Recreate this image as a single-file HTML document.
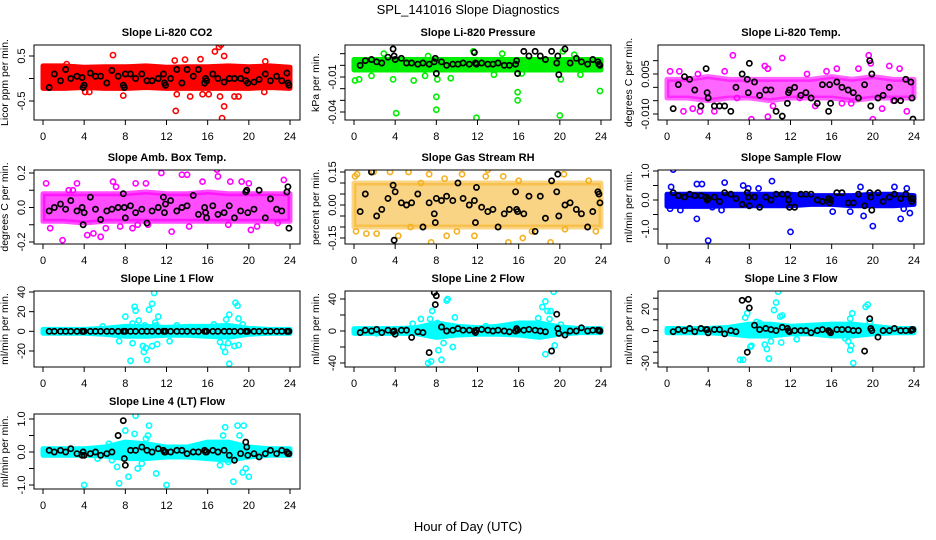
<!DOCTYPE html>
<html><head><meta charset="utf-8"><style>
html,body{margin:0;padding:0;background:#fff;}
svg{display:block;font-family:"Liberation Sans",sans-serif;}
</style></head><body>
<svg id="chart" width="936" height="540" viewBox="0 0 936 540">
<text x="468" y="14" text-anchor="middle" font-size="13">SPL_141016  Slope Diagnostics</text>
<text x="468" y="531" text-anchor="middle" font-size="13">Hour of Day (UTC)</text>
</svg>
<script>
const blackHours=[0.6,1.1,1.7,2.2,2.7,3.3,3.8,3.9,4.0,4.6,5.1,5.6,6.2,6.7,7.3,7.8,7.9,8.0,8.5,9.0,9.6,10.1,10.6,11.2,11.7,11.8,11.9,12.4,13.0,13.5,14.0,14.6,15.1,15.7,15.8,15.9,16.5,17.0,17.6,18.1,18.6,19.2,19.7,19.8,19.9,20.5,21.0,21.6,22.1,22.7,23.2,23.7,23.8,23.9];
const bandHours=[0,2,4,6,8,10,12,14,16,18,20,22,24];
const xTicks=[0,4,8,12,16,20,24];

const co2Black=[-0.2,0.1,-0.05,0.2,0,0.05,0.02,-0.2,-0.15,0.12,0.05,0.05,-0.1,0.18,0.05,-0.15,-0.2,0.1,0.1,0,0.1,-0.05,-0.05,0,0.1,-0.1,-0.15,0,0.2,-0.1,0.2,0.05,0.2,-0.1,0,-0.05,0.1,0,-0.08,0,0,0,-0.05,0.18,-0.1,-0.08,-0.02,0.1,-0.05,0.05,-0.05,0.12,-0.1,-0.15];
const co2BandLo=[-0.22,-0.22,-0.2,-0.22,-0.22,-0.2,-0.22,-0.22,-0.22,-0.22,-0.22,-0.2,-0.22];
const co2BandHi=[0.28,0.28,0.25,0.26,0.26,0.28,0.25,0.26,0.26,0.28,0.26,0.28,0.25];
const co2OutX=[6.8,7.8,12.9,13.0,14.3,15.3,17.4,17.6,16.7,17.1,17.3,17.6,4.1,19.0,18.6,12.8,13.8,15.5,16.1,17.2,21.5,0.2,23.9,2.3,21.6,4.5];
const co2OutY=[0.52,-0.38,-0.72,-0.35,-0.4,0.43,-0.88,-0.62,0.6,0.7,0.75,0.5,-0.3,-0.4,-0.4,0.4,0.42,-0.35,-0.35,-0.4,-0.3,-0.15,-0.15,0.32,0.38,-0.3];

const presBlack=[0,0.004,0.005,0.003,0.002,0.007,0.014,0.008,0.005,0.006,0.002,0.002,0.001,0.002,0.001,0.003,0.006,-0.007,0.003,0,0.001,0.001,0.002,0.001,0.011,0.002,0.001,0.002,0.001,0.001,0.002,0,0,0.001,0.004,-0.007,0.012,0.008,0.012,0.008,0.005,0.012,0.002,0.008,-0.008,0.014,0.002,0.006,0.003,0.001,0.005,0.003,0.001,0];
const presBandLo=[-0.004,-0.004,-0.004,-0.004,-0.004,-0.004,-0.004,-0.004,-0.004,-0.004,-0.004,-0.004,-0.004];
const presBandHi=[0.005,0.005,0.005,0.005,0.005,0.005,0.005,0.005,0.005,0.005,0.005,0.005,0.005];
const presOutX=[0.1,0.5,4.1,8.0,8.0,11.9,15.9,15.9,20.0,20.1,23.9,3.8,1.7,5.8,6.9,9.4,2.9,7.2,11.6,14.4,20.3,21.4,13.6,8.1,16.3,22.0];
const presOutY=[-0.013,-0.012,-0.041,-0.038,-0.027,-0.045,-0.030,-0.023,-0.043,-0.012,-0.022,-0.012,-0.009,-0.013,-0.009,-0.011,0.01,0.008,0.012,0.01,0.012,0.009,-0.008,-0.012,-0.007,-0.008];

const tempBlack=[-0.008,0.001,0.004,0.003,-0.001,-0.007,0.007,-0.002,-0.004,-0.007,-0.007,-0.007,-0.009,0,0.005,0.003,-0.002,0.009,0.002,-0.003,-0.001,-0.001,-0.009,-0.0108,-0.006,-0.002,-0.001,0,-0.003,-0.002,-0.004,-0.006,0.001,-0.009,0.001,-0.006,0.002,0,-0.001,-0.002,-0.004,0.001,0.010,-0.007,0.005,-0.004,-0.003,0,-0.005,-0.005,0.003,0.002,-0.004,-0.0119];
const tempBandLo=[-0.004,-0.004,-0.005,-0.004,-0.004,-0.005,-0.004,-0.004,-0.004,-0.005,-0.004,-0.004,-0.004];
const tempBandHi=[0.003,0.003,0.004,0.003,0.003,0.003,0.003,0.003,0.004,0.003,0.004,0.003,0.003];
const tempOutX=[6.4,11.2,19.6,19.8,0.3,9.5,9.8,20.0,8.2,9.8,3.2,1.6,4.6,17.0,22.6,21.6,18.6,2.5,6.8,12.9,15.5,13.6,23.3,20.9,5.6,14.4,10.3,16.5,17.9,1.2,3.0,22.0];
const tempOutY=[0.012,0.011,0.012,0.009,0.006,0.008,0.007,-0.012,-0.012,-0.011,-0.009,-0.009,-0.009,-0.006,0.007,0.008,0.007,-0.008,-0.004,-0.004,0.006,0.005,-0.009,-0.008,0.006,-0.007,-0.007,0.007,-0.006,0.006,0.005,-0.005];

const ambBlack=[-0.02,0,0.02,-0.01,0.04,-0.02,0,-0.1,-0.03,0.06,-0.01,-0.07,-0.02,-0.01,0,0.08,0,-0.06,0.01,-0.03,-0.01,-0.09,-0.02,0,0.06,-0.03,0.02,0.04,-0.02,0,0.01,0.07,-0.04,0,-0.03,-0.06,0.01,-0.04,-0.03,0.01,-0.06,-0.02,0.09,0.1,-0.03,-0.01,0.1,-0.06,0.05,-0.01,-0.02,0.09,0.12,-0.12];
const ambBandLo=[-0.08,-0.08,-0.09,-0.08,-0.08,-0.08,-0.08,-0.08,-0.08,-0.08,-0.08,-0.08,-0.08];
const ambBandHi=[0.08,0.08,0.08,0.08,0.08,0.09,0.08,0.08,0.09,0.08,0.08,0.08,0.08];
const ambOutX=[0.3,1.9,0.7,2.9,3.3,4.3,4.9,5.6,6.8,7.1,9.0,10.0,11.5,12.5,13.5,14.0,15.5,16.9,17.0,18.2,19.3,20.0,20.2,20.8,22.8,23.4,9.2,10.2,6.1,7.5,14.2,18.0,2.5,8.7];
const ambOutY=[0.14,-0.19,-0.12,0.1,0.14,-0.16,-0.15,-0.17,0.15,0.12,0.14,0.14,0.2,-0.14,0.19,0.19,0.15,0.22,0.18,0.15,0.15,0.14,-0.13,-0.11,-0.09,0.16,-0.1,-0.1,-0.12,-0.11,-0.11,-0.1,0.1,-0.12];

const rhBlack=[-0.03,0.05,0.15,-0.05,-0.02,0.03,0.09,-0.16,0.06,0.01,0,0.01,0.05,-0.1,0.01,-0.04,-0.08,0.03,0.02,0.04,0.02,0.1,0.03,0,0.02,-0.08,0.08,-0.01,-0.03,-0.02,-0.1,-0.04,-0.02,0.06,-0.02,-0.03,-0.04,0.04,-0.12,0.04,-0.06,0.11,0.06,0.14,-0.05,0,0.01,-0.02,-0.04,-0.1,-0.03,0.06,0.05,0.01];
const rhBandLo=[-0.1,-0.1,-0.1,-0.1,-0.1,-0.1,-0.1,-0.1,-0.1,-0.1,-0.1,-0.1,-0.1];
const rhBandHi=[0.1,0.1,0.1,0.1,0.1,0.1,0.1,0.1,0.1,0.1,0.1,0.1,0.1];
const rhOutX=[0.1,0.3,1.9,3.5,5.3,6.5,7.3,8.8,10.5,12.8,13.0,14.5,16.0,20.4,22.8,0.2,1.2,2.2,4.3,7.5,9.0,11.7,15.0,16.4,17.3,19.1,20.5,23.5,5.5,10.0];
const rhOutY=[0.13,0.14,0.15,0.15,0.15,0.1,0.14,0.12,0.14,0.13,0.16,0.13,0.11,0.14,0.11,-0.12,-0.13,-0.13,-0.14,-0.17,-0.14,-0.14,-0.17,-0.15,-0.12,-0.17,-0.11,-0.12,-0.1,-0.12];

const sfBlack=[0.25,0.15,0.1,0.2,0.15,0.15,0.1,0,0.05,0.1,-0.05,0.25,0.2,0.05,-0.15,0.25,0.1,-0.2,0.1,-0.25,0.1,0,0.2,0.2,0.2,0,-0.25,-0.25,0.2,0.2,0.2,0,-0.05,0.05,-0.1,0,0.25,0.25,-0.1,-0.1,0.2,-0.2,0.25,0.1,-0.35,0.25,-0.05,0.1,0.2,0.05,0.2,0.05,-0.05,0.05];
const sfBandLo=[-0.22,-0.22,-0.22,-0.2,-0.2,-0.2,-0.2,-0.15,-0.15,-0.2,-0.2,-0.2,-0.15];
const sfBandHi=[0.2,0.2,0.2,0.2,0.2,0.2,0.2,0.15,0.15,0.15,0.2,0.2,0.15];
const sfOutX=[0.6,0.4,0.3,1.3,2.9,2.9,3.4,4.0,5.6,7.4,7.9,10.2,12.0,16.1,18.8,19.1,20.0,22.1,22.7,23.0,23.3,23.6,8.9,17.8,5.3,4.4];
const sfOutY=[1.05,0.45,-0.3,-0.35,0.55,-0.65,0.55,-1.4,0.6,0.5,0.4,0.65,-1.1,-0.4,0.45,-0.55,-0.9,0.45,-0.65,-0.3,0.4,-0.45,0.4,-0.4,-0.35,-0.25];

const l1Black=[0,0,0,0,0,0,0,0,0,0,0,0,0,0,0,0,0,0,0,0,0,0,0,0,0,0,0,0,0,0,0,0,0,0,0,0,0,0,0,0,0,0,0,0,0,0,0,0,0,0,0,0,0,0];
const l1BandLo=[-2,-2,-2,-3,-5,-5,-4,-4,-5,-6,-3,-2,-2];
const l1BandHi=[2,2,2,3,5,5,4,5,5,6,3,2,2];
const l1OutX=[8.0,8.5,8.9,9.0,9.3,8.7,8.7,9.7,9.8,10.0,10.1,10.3,10.6,10.8,10.9,11.2,11.1,10.6,7.4,12.3,17.2,17.5,17.7,18.0,18.1,17.8,18.1,18.7,18.9,19.0,18.6,19.0,19.4,5.8,9.9,16.6,11.0,13.0];
const l1OutY=[15,-30,25,21,11,8,-12,-15,-21,-17,-29,22,28,39,9,15,-13,-15,-10,-10,-11,-16,-21,-12,-33,12,17,29,26,13,-15,-14,7,5,6,7,6,6];

const l2Black=[-2,1,0,2,-2,1,-1,0,-4,1,1,-8,-1,-2,-27,48,33,44,5,0,1,3,1,1,0,-2,1,2,1,0,1,0,-1,0,3,1,1,2,1,0,-1,-25,21,3,-3,-5,0,0,4,0,1,1,1,0];
const l2BandLo=[-3,-3,-3,-3,-8,-5,-4,-4,-5,-8,-4,-2,-2];
const l2BandHi=[3,3,3,4,10,6,4,6,10,10,5,3,3];
const l2OutX=[6.5,7.4,7.6,7.2,7.5,8.2,8.5,8.7,8.1,9.0,9.1,9.6,9.8,18.3,18.6,18.8,19.1,19.4,18.6,19.5,17.9,18.0,19.0,20.1,12.8,2.2,5.7];
const l2OutY=[15,15,25,-40,-38,-24,-36,-15,10,38,40,-20,17,30,37,25,25,49,-29,-18,16,8,15,8,6,-3,9];

const l3Black=[-1,1,0,2,-1,2,1,1,-2,1,1,-3,0,-1,28,-20,29,21,5,1,2,1,0,3,2,0,-1,0,0,0,-2,0,1,0,-1,-2,1,1,1,0,0,-19,11,2,0,-6,0,0,2,0,0,0,1,1];
const l3BandLo=[-2,-2,-2,-3,-5,-5,-3,-3,-5,-5,-3,-2,-2];
const l3BandHi=[2,2,2,3,6,6,4,5,6,6,4,2,2];
const l3OutX=[7.1,7.4,7.6,7.8,8.1,8.2,8.7,9.0,9.5,9.7,9.9,10.1,10.4,10.6,10.8,11.0,11.2,11.1,12.6,17.3,17.6,17.8,17.9,18.1,17.8,18.0,19.3,19.5,19.7,20.0,7.2];
const l3OutY=[-27,-27,12,16,-15,-14,8,7,-13,-17,-26,-10,19,26,36,13,14,-11,-8,-7,-10,-18,-14,-30,11,16,22,24,8,3,-3];

const l4Black=[0.05,0,0.05,0,0.1,-0.05,-0.1,0,-0.1,-0.05,0,-0.1,-0.05,0,0.5,0.95,-0.2,-0.4,0.05,0.05,0.15,0.05,0,0.1,0.05,0,0,0,0.05,0.05,-0.05,0,0,0.05,0,0,0.05,0,0.05,-0.1,-0.25,-0.05,0.3,0.15,-0.1,-0.05,-0.15,-0.05,0.05,-0.05,0.05,0,-0.05,-0.05];
const l4BandLo=[-0.1,-0.1,-0.1,-0.12,-0.2,-0.2,-0.15,-0.15,-0.2,-0.25,-0.15,-0.1,-0.1];
const l4BandHi=[0.1,0.1,0.1,0.15,0.3,0.25,0.15,0.15,0.3,0.3,0.15,0.1,0.1];
const l4OutX=[4.0,7.4,7.2,8.0,8.3,8.9,9.0,9.2,10.0,10.2,10.3,11.0,12.0,6.4,6.7,5.3,17.5,17.7,18.5,18.9,19.1,19.4,19.5,20.0,17.2,18.0,9.6,19.7];
const l4OutY=[-1.0,-0.95,-0.45,0.65,-0.75,0.55,1.1,-0.5,0.4,0.5,0.8,-0.65,-1.0,0.25,-0.25,-0.2,0.5,0.75,-0.9,0.8,0.5,-0.62,0.8,-0.75,-0.4,-0.3,-0.35,-0.5];

const NS="http://www.w3.org/2000/svg";
const svg=document.getElementById('chart');
const colX0=[43,354,667];
const rowBox=[[45,120],[170,244],[291,367],[414,489]];
const HOUR=247/24;
function mk(tag,attrs,parent){const e=document.createElementNS(NS,tag);for(const k in attrs)e.setAttribute(k,attrs[k]);(parent||svg).appendChild(e);return e;}

const panels=[
 {key:'co2',title:'Slope Li-820 CO2',ylab:'Licor ppm per min.',col:0,row:0,ref:[0.5,56,-0.5,101],ticks:[-0.5,0,0.5],labels:['-0.5','','0.5'],color:'#ff0000',black:co2Black,lo:co2BandLo,hi:co2BandHi,ox:co2OutX,oy:co2OutY},
 {key:'pressure',title:'Slope Li-820 Pressure',ylab:'kPa per min.',col:1,row:0,ref:[-0.01,77,-0.04,112],ticks:[-0.04,-0.03,-0.02,-0.01,0,0.01],labels:['-0.04','','','-0.01','',''],color:'#00ee00',black:presBlack,lo:presBandLo,hi:presBandHi,ox:presOutX,oy:presOutY},
 {key:'li820-temp',title:'Slope Li-820 Temp.',ylab:'degrees C per min.',col:2,row:0,ref:[0.005,74,-0.01,114],ticks:[-0.01,-0.005,0,0.005,0.01],labels:['-0.010','','','0.005',''],color:'#ff00ff',black:tempBlack,lo:tempBandLo,hi:tempBandHi,ox:tempOutX,oy:tempOutY,op:0.6},
 {key:'amb-box-temp',title:'Slope Amb. Box Temp.',ylab:'degrees C per min.',col:0,row:1,ref:[0.2,173,-0.2,242],ticks:[-0.2,-0.1,0,0.1,0.2],labels:['-0.2','','0.0','','0.2'],color:'#ff00ff',black:ambBlack,lo:ambBandLo,hi:ambBandHi,ox:ambOutX,oy:ambOutY,op:0.7},
 {key:'gas-stream-rh',title:'Slope Gas Stream RH',ylab:'percent per min.',col:1,row:1,ref:[0.15,172,-0.15,238],ticks:[-0.15,-0.1,-0.05,0,0.05,0.1,0.15],labels:['-0.15','','','0.00','','','0.15'],color:'#f5b020',black:rhBlack,lo:rhBandLo,hi:rhBandHi,ox:rhOutX,oy:rhOutY,op:0.55},
 {key:'sample-flow',title:'Slope Sample Flow',ylab:'ml/min per min.',col:2,row:1,ref:[1,171,-1,229],ticks:[-1,-0.5,0,0.5,1],labels:['-1.0','','0.0','','1.0'],color:'#0000ff',black:sfBlack,lo:sfBandLo,hi:sfBandHi,ox:sfOutX,oy:sfOutY},
 {key:'line1-flow',title:'Slope Line 1 Flow',ylab:'ml/min per min.',col:0,row:2,ref:[40,292,-20,351],ticks:[-20,0,20,40],labels:['-20','0','20','40'],color:'#00ffff',black:l1Black,lo:l1BandLo,hi:l1BandHi,ox:l1OutX,oy:l1OutY},
 {key:'line2-flow',title:'Slope Line 2 Flow',ylab:'ml/min per min.',col:1,row:2,ref:[40,299,-40,363],ticks:[-40,-20,0,20,40],labels:['-40','','0','','40'],color:'#00ffff',black:l2Black,lo:l2BandLo,hi:l2BandHi,ox:l2OutX,oy:l2OutY},
 {key:'line3-flow',title:'Slope Line 3 Flow',ylab:'ml/min per min.',col:2,row:2,ref:[20,309,-30,363],ticks:[-30,-20,-10,0,10,20,30],labels:['-30','','','0','','20',''],color:'#00ffff',black:l3Black,lo:l3BandLo,hi:l3BandHi,ox:l3OutX,oy:l3OutY},
 {key:'line4-flow',title:'Slope Line 4 (LT) Flow',ylab:'ml/min per min.',col:0,row:3,ref:[1,419,-1,485],ticks:[-1,-0.5,0,0.5,1],labels:['-1.0','','0.0','','1.0'],color:'#00ffff',black:l4Black,lo:l4BandLo,hi:l4BandHi,ox:l4OutX,oy:l4OutY}
];

panels.forEach(p=>{
 const x0=colX0[p.col],[top,bot]=rowBox[p.row];
 const L=x0-9,R=x0+257;
 const xs=h=>x0+h*HOUR;
 const k=(p.ref[3]-p.ref[1])/(p.ref[2]-p.ref[0]);
 const ys=v=>p.ref[1]+(v-p.ref[0])*k;
 const g=mk('g',{});
 
 
 const t=mk('text',{x:(L+R)/2,y:top-9,'text-anchor':'middle','font-size':'11','font-weight':'bold'},g);
 t.textContent=p.title;
 
 
 const cy=(top+bot)/2, lx=L-26;
 const yl=mk('text',{x:lx,y:cy,'text-anchor':'middle','font-size':'10.5',transform:`rotate(-90 ${lx} ${cy})`},g);
 yl.textContent=p.ylab;
 
 
 const clip='clip-'+p.key;
 const cp=mk('clipPath',{id:clip},g);
 mk('rect',{x:L,y:top,width:R-L,height:bot-top},cp);
 const plot=mk('g',{'clip-path':`url(#${clip})`},g);
 let pts=bandHours.map((h,i)=>xs(h)+','+ys(p.hi[i]));
 pts=pts.concat(bandHours.map((h,i)=>xs(h)+','+ys(p.lo[i])).reverse());
 const band=mk('polygon',{points:pts.join(' '),fill:p.color,stroke:p.color,'stroke-width':5,'stroke-linejoin':'round','fill-opacity':p.op||1,'stroke-opacity':p.op||1},plot);
 
 
 p.ox.forEach((h,i)=>{
  const c=mk('circle',{cx:xs(h),cy:ys(p.oy[i]),r:2.6,fill:'none',stroke:p.color,'stroke-width':1.6},plot);
  
  
 });
 blackHours.forEach((h,i)=>{
  const c=mk('circle',{cx:xs(h),cy:ys(p.black[i]),r:2.6,fill:'none',stroke:'#000','stroke-width':1.7},plot);
  
  
 });
 const box=mk('rect',{x:L,y:top,width:R-L,height:bot-top,fill:'none',stroke:'#000','stroke-width':1},g);
 
 
 xTicks.forEach(h=>{
  mk('line',{x1:xs(h),x2:xs(h),y1:bot,y2:bot+5,stroke:'#000'},g);
  const tl=mk('text',{x:xs(h),y:bot+20,'text-anchor':'middle','font-size':'11'},g);
  tl.textContent=h;
  
  
 });
 p.ticks.forEach((v,i)=>{
  const y=ys(v);
  mk('line',{x1:L-5,x2:L,y1:y,y2:y,stroke:'#000'},g);
  if(p.labels[i]){
   const tx=L-9;
   const tl=mk('text',{x:tx,y:y,'text-anchor':'middle','font-size':'11',transform:`rotate(-90 ${tx} ${y})`},g);
   tl.textContent=p.labels[i];
   
   
  }
 });
});
</script>
</body></html>
